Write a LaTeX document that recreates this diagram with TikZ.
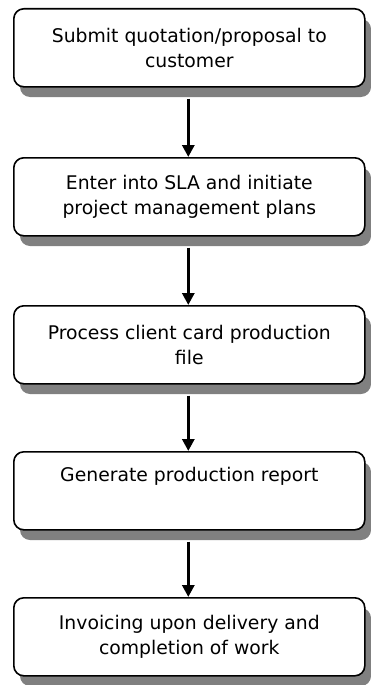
\documentclass[tikz,border=0pt]{standalone}
\usepackage{fontspec}
\setmainfont{DejaVu Sans}
\usetikzlibrary{arrows.meta}
\tikzset{
  x=1pt, y=-1pt,
  stepbox/.style={draw=black, line width=1.6pt, rounded corners=10pt, fill=white,
    minimum width=351pt, minimum height=78pt, inner sep=0pt, anchor=north west,
    align=center, font=\fontsize{18.8}{25}\selectfont},
  shade box/.style={fill=black!50, rounded corners=10pt},
  flow/.style={line width=3.2pt, -{Triangle[length=12pt,width=12pt]}}
}
\begin{document}
\begin{tikzpicture}
\useasboundingbox (0,0) rectangle (371,685);
% shadows under each step
\foreach \t in {8,157,305,451,597}{
  \fill[shade box] (20,\t+11) rectangle (371,\t+89);
}
\node[stepbox] (s1) at (13,8) {Submit quotation/proposal to\\customer};
\node[stepbox] (s2) at (13,157) {Enter into SLA and initiate\\project management plans};
\node[stepbox] (s3) at (13,305) {Process client card production\\file};
\node[stepbox] (s4) at (13,451) {Generate production report\\\strut};
\node[stepbox] (s5) at (13,597) {Invoicing upon delivery and\\completion of work};
% connectors
\foreach \a/\b in {s1/s2,s2/s3,s3/s4,s4/s5}{
  \draw[flow] ([xshift=-1pt,yshift=-11pt]\a.south) -- ([xshift=-1pt]\b.north);
}
\end{tikzpicture}
\end{document}
